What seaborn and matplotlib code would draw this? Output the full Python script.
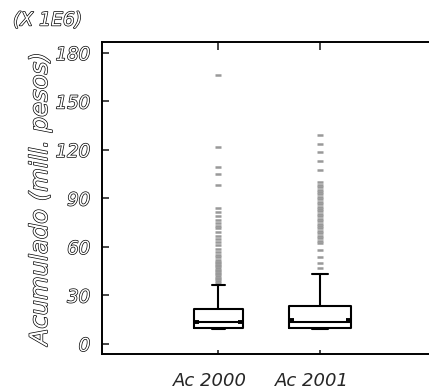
import pandas as pd
import seaborn as sns
import matplotlib.pyplot as plt
import matplotlib.patheffects as pe
from matplotlib.transforms import ScaledTranslation

# valores (X 1E6 pesos)
groups = ['Ac 2000', 'Ac 2001']
box_widths = [0.48, 0.61]
cap_widths = [0.13, 0.165]
whis_lo = [9.0, 9.0]
q1 = [9.9, 9.9]
medians = [13.7, 13.6]
q3 = [21.6, 23.6]
whis_hi = [36.5, 43.3]
notch_hi = [13.9, 15.1]

out_2000 = [166.4, 121.8, 109.5, 105.1, 98.3, 84.1, 81.5, 79.0, 77.0, 75.0, 73.0,
            71.5, 69.0, 67.0, 65.0, 63.0, 61.0, 59.0, 57.0, 55.0, 53.5, 52.0, 51.0,
            50.0, 49.0, 48.0, 47.0, 46.0, 45.0, 44.0, 43.0, 42.0, 41.0, 40.0, 39.0, 38.0]
out_2001 = [129.3, 124.0, 119.0, 113.0, 107.6, 100.0, 98.5, 97.0, 95.5, 94.0, 92.5,
            91.0, 89.5, 88.0, 86.5, 85.0, 83.5, 82.0, 80.5, 79.0, 77.5, 76.0, 74.5,
            73.0, 71.5, 70.0, 68.5, 67.0, 65.5, 64.0, 62.5, 58.0, 54.0, 50.0, 47.0]

yticks = [0, 30, 60, 90, 120, 150, 180]

sns.set_style('ticks')
plt.rcParams['font.family'] = ['DejaVu Sans']

fig = plt.figure(figsize=(4.29, 3.91), dpi=100)
ax = fig.add_axes([102 / 429, 37 / 391, 330 / 429, 312 / 391])

# cajas: resumen de cinco numeros de cada grupo
for i, g in enumerate(groups):
    summary = pd.DataFrame({'grupo': g,
                            'valor': [whis_lo[i], q1[i], medians[i], q3[i], whis_hi[i]]})
    sns.boxplot(data=summary, x='grupo', y='valor', order=groups, width=box_widths[i],
                fill=False, color='black', linewidth=1.5, showfliers=False,
                capwidths=cap_widths[i], ax=ax)
    # esquinas de la muesca
    half = box_widths[i] / 2
    ax.hlines(notch_hi[i], i - half, i - half + 0.05, color='black', lw=2.8)
    ax.hlines(notch_hi[i], i + half - 0.05, i + half, color='black', lw=2.8)

# valores atipicos
outliers = pd.DataFrame({'grupo': ['Ac 2000'] * len(out_2000) + ['Ac 2001'] * len(out_2001),
                         'valor': out_2000 + out_2001})
sns.stripplot(data=outliers, x='grupo', y='valor', order=groups, jitter=False,
              marker='_', color='#999999', size=5, linewidth=1.8, ax=ax, zorder=1)

ax.set_xlim(-1.144, 2.10)
ax.set_ylim(-6.2, 186.8)
ax.set_yticks(yticks)
ax.set_xlabel('')
ax.set_ylabel('')

for side in ['left', 'top', 'bottom']:
    ax.spines[side].set_linewidth(1.4)
    ax.spines[side].set_color('black')
ax.spines['right'].set_visible(False)

ax.tick_params(axis='y', direction='in', length=5, width=1.2, pad=8.5, labelsize=13)
ax.tick_params(axis='x', direction='in', length=3, width=1.2, pad=13, top=True, labelsize=13)
for t in ax.xaxis.get_major_ticks():
    t.tick2line.set_markersize(6)

hollow = [pe.Stroke(linewidth=1.0, foreground='black'), pe.Normal()]
for lbl in ax.get_yticklabels():
    lbl.set_style('italic')
    lbl.set_color('white')
    lbl.set_path_effects(hollow)

shift = ScaledTranslation(-8 / 100, 0, fig.dpi_scale_trans)
for lbl in ax.get_xticklabels():
    lbl.set_style('italic')
    lbl.set_transform(lbl.get_transform() + shift)

fig.text(40 / 429, 1 - 199 / 391, 'Acumulado (mill. pesos)', rotation=90, ha='center',
         va='center', fontsize=17.5, style='italic', color='white', path_effects=hollow)
fig.text(13 / 429, 1 - 20 / 391, '(X 1E6)', ha='left', va='center', fontsize=13.5,
         style='italic', color='white', path_effects=hollow)

fig.savefig('out.png', dpi=100)
